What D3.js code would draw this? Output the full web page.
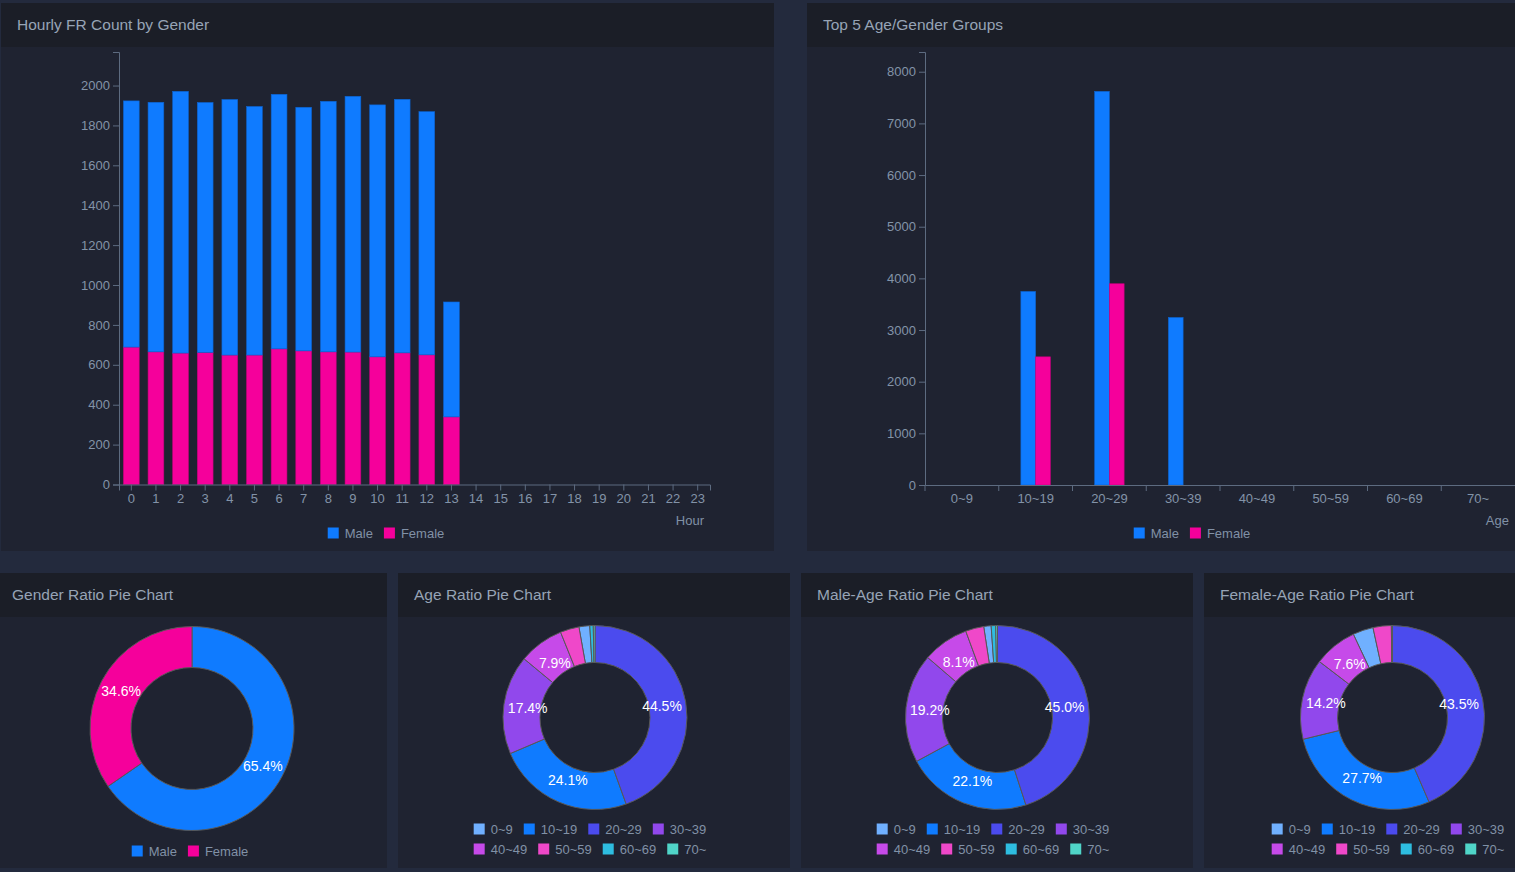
<!DOCTYPE html>
<html>
<head>
<meta charset="utf-8">
<script src="https://cdn.jsdelivr.net/npm/d3@7"></script>
<style>
html, body { margin: 0; padding: 0; background: #232a3d; overflow: hidden; }
svg { display: block; font-family: "Liberation Sans", Arial, sans-serif; }
.axis path, .axis line { stroke: #5d6b80; }
.axis text { fill: #8393a8; font-size: 13px; font-family: "Liberation Sans", Arial, sans-serif; }
</style>
</head>
<body>
<svg id="dash" width="1515" height="872"></svg>
<script>
// hourly counts (stacked: female at the bottom)
var hours = ["0","1","2","3","4","5","6","7","8","9","10","11","12","13","14","15","16","17","18","19","20","21","22","23"];
var hourlyMale = [1234, 1251, 1312, 1253, 1281, 1246, 1276, 1221, 1256, 1282, 1263, 1271, 1219, 576, 0, 0, 0, 0, 0, 0, 0, 0, 0, 0];
var hourlyFemale = [689, 665, 659, 662, 649, 649, 680, 670, 665, 664, 640, 660, 650, 339, 0, 0, 0, 0, 0, 0, 0, 0, 0, 0];

// top 5 age/gender groups
var ageGroups = ["0~9", "10~19", "20~29", "30~39", "40~49", "50~59", "60~69", "70~"];
var topMale = [0, 3747, 7620, 3243, 0, 0, 0, 0];
var topFemale = [0, 2481, 3896, 0, 0, 0, 0, 0];

// pie ratios (%)
var genders = ["Male", "Female"];
var genderPct = [65.4, 34.6];
var agePct = [1.9, 24.1, 44.5, 17.4, 7.9, 3.3, 0.6, 0.3];
var maleAgePct = [1.3, 22.1, 45.0, 19.2, 8.1, 3.2, 0.8, 0.3];
var femaleAgePct = [3.6, 27.7, 43.5, 14.2, 7.6, 3.2, 0.1, 0.1];

var genderColors = ["#0f7bff", "#f5009b"];
var ageColors = ["#70b0ff", "#0f7bff", "#4b4bee", "#9148ec", "#c64ae9", "#ef48c9", "#2ebde0", "#50d5c8"];

var svg = d3.select("#dash");
var legendColor = "#8191a6";

// panels
var panels = [
  {x: 1, y: 3, w: 773, h: 548, title: "Hourly FR Count by Gender"},
  {x: 807, y: 3, w: 773, h: 548, title: "Top 5 Age/Gender Groups"},
  {x: -4, y: 573, w: 391, h: 295, title: "Gender Ratio Pie Chart"},
  {x: 398, y: 573, w: 392, h: 295, title: "Age Ratio Pie Chart"},
  {x: 801, y: 573, w: 392, h: 295, title: "Male-Age Ratio Pie Chart"},
  {x: 1204, y: 573, w: 392, h: 295, title: "Female-Age Ratio Pie Chart"}
];
panels.forEach(function(p) {
  svg.append("rect").attr("x", p.x).attr("y", p.y).attr("width", p.w).attr("height", p.h).attr("fill", "#1f2331");
  svg.append("rect").attr("x", p.x).attr("y", p.y).attr("width", p.w).attr("height", 44).attr("fill", "#1b1e27");
  svg.append("text").attr("x", p.x + 16).attr("y", p.y + 27)
    .attr("fill", "#97a4b6").style("font-size", "15.5px").text(p.title);
});

// legend helper: rows of [label, color]
function drawLegend(rows, cx, cy) {
  var g = svg.append("g");
  rows.forEach(function(row, ri) {
    var rg = g.append("g");
    var x = 0;
    row.forEach(function(item) {
      rg.append("rect").attr("x", x).attr("y", -5.5).attr("width", 11).attr("height", 11).attr("fill", item[1]);
      var t = rg.append("text").attr("x", x + 17).attr("y", 0).attr("dy", "0.35em")
        .attr("fill", legendColor).style("font-size", "13px").text(item[0]);
      x += 17 + t.node().getComputedTextLength() + 11;
    });
    var w = x - 11;
    rg.attr("transform", "translate(" + (cx - w / 2) + "," + (cy + ri * 20) + ")");
  });
}

// ---------- Hourly FR Count by Gender ----------
(function() {
  var rows = hours.map(function(h, i) { return {hour: h, Male: hourlyMale[i], Female: hourlyFemale[i]}; });
  var stack = d3.stack().keys(["Female", "Male"])(rows);
  var x = d3.scaleBand().domain(hours).range([119, 710]).paddingInner(0.36).paddingOuter(0.18);
  var maxTotal = d3.max(rows, function(d) { return d.Male + d.Female; });
  var y = d3.scaleLinear().domain([0, maxTotal * 1.1]).range([484.5, 52]);
  var colorOf = {Male: genderColors[0], Female: genderColors[1]};

  svg.append("g").selectAll("g").data(stack).join("g")
    .attr("fill", function(s) { return colorOf[s.key]; })
    .attr("stroke", function(s) { return d3.color(colorOf[s.key]).darker(0.6); })
    .attr("stroke-width", 0.6)
    .selectAll("rect").data(function(s) { return s.filter(function(d) { return d[1] > d[0]; }); }).join("rect")
      .attr("x", function(d) { return x(d.data.hour); })
      .attr("width", x.bandwidth())
      .attr("y", function(d) { return y(d[1]); })
      .attr("height", function(d) { return y(d[0]) - y(d[1]); });

  svg.append("g").attr("class", "axis").attr("transform", "translate(0," + y(0) + ")").call(d3.axisBottom(x));
  svg.append("g").attr("class", "axis").attr("transform", "translate(119,0)")
    .call(d3.axisLeft(y).ticks(10).tickFormat(d3.format("d")));

  svg.append("text").attr("x", 704).attr("y", 525).attr("text-anchor", "end")
    .attr("fill", legendColor).style("font-size", "13px").text("Hour");
  drawLegend([[["Male", genderColors[0]], ["Female", genderColors[1]]]], 386, 533);
})();

// ---------- Top 5 Age/Gender Groups ----------
(function() {
  var rows = ageGroups.map(function(a, i) { return {age: a, Male: topMale[i], Female: topFemale[i]}; });
  var x0 = d3.scaleBand().domain(ageGroups).range([925, 1515]);
  var bw = x0.bandwidth();
  var x1 = d3.scaleBand().domain(genders).range([bw * 0.3, bw * 0.7]);
  var maxVal = d3.max(rows, function(d) { return Math.max(d.Male, d.Female); });
  var y = d3.scaleLinear().domain([0, maxVal * 1.1]).range([485, 52]);

  svg.append("g").selectAll("g").data(rows).join("g")
    .attr("transform", function(d) { return "translate(" + x0(d.age) + ",0)"; })
    .selectAll("rect").data(function(d) {
      return genders.map(function(k, i) { return {key: k, value: d[k], color: genderColors[i]}; })
        .filter(function(e) { return e.value > 0; });
    }).join("rect")
      .attr("x", function(e) { return x1(e.key); })
      .attr("width", x1.bandwidth())
      .attr("y", function(e) { return y(e.value); })
      .attr("height", function(e) { return y(0) - y(e.value); })
      .attr("fill", function(e) { return e.color; })
      .attr("stroke", function(e) { return d3.color(e.color).darker(0.6); })
      .attr("stroke-width", 0.6);

  var xa = svg.append("g").attr("class", "axis").attr("transform", "translate(0," + y(0) + ")")
    .call(d3.axisBottom(x0).tickSize(0).tickSizeOuter(0).tickPadding(9));
  xa.selectAll(".bound").data(ageGroups).join("line").attr("class", "bound")
    .attr("x1", function(d) { return x0(d); }).attr("x2", function(d) { return x0(d); })
    .attr("y1", 0).attr("y2", 6);
  svg.append("g").attr("class", "axis").attr("transform", "translate(925,0)")
    .call(d3.axisLeft(y).ticks(10).tickFormat(d3.format("d")));

  svg.append("text").attr("x", 1509).attr("y", 525).attr("text-anchor", "end")
    .attr("fill", legendColor).style("font-size", "13px").text("Age");
  drawLegend([[["Male", genderColors[0]], ["Female", genderColors[1]]]], 1192, 533);
})();

// ---------- Donuts ----------
function drawDonut(labels, values, colors, cx, cy, rOuter, rInner, rLabel) {
  var total = d3.sum(values);
  var data = labels.map(function(l, i) { return {label: l, value: values[i], color: colors[i]}; });
  var pie = d3.pie().value(function(d) { return d.value; });
  var arc = d3.arc().innerRadius(rInner).outerRadius(rOuter);
  var labelArc = d3.arc().innerRadius(rLabel).outerRadius(rLabel);
  var g = svg.append("g").attr("transform", "translate(" + cx + "," + cy + ")");
  var arcs = pie(data);
  g.selectAll("path").data(arcs).join("path")
    .attr("d", arc)
    .attr("fill", function(d) { return d.data.color; })
    .attr("stroke", "#585858").attr("stroke-width", 1);
  g.selectAll("text").data(arcs.filter(function(d) { return d.data.value / total > 0.05; })).join("text")
    .attr("transform", function(d) { return "translate(" + labelArc.centroid(d) + ")"; })
    .attr("text-anchor", "middle").attr("dy", "0.35em")
    .attr("fill", "#ffffff").style("font-size", "14px")
    .text(function(d) { return (d.data.value / total * 100).toFixed(1) + "%"; });
}

drawDonut(genders, genderPct, genderColors, 192, 728.5, 102, 61, 80);
drawLegend([[["Male", genderColors[0]], ["Female", genderColors[1]]]], 190, 851);

var ageItems = ageGroups.map(function(a, i) { return [a, ageColors[i]]; });
var ageRows = [ageItems.slice(0, 4), ageItems.slice(4)];

drawDonut(ageGroups, agePct, ageColors, 595, 717.5, 92, 55, 68);
drawLegend(ageRows, 590, 829);

drawDonut(ageGroups, maleAgePct, ageColors, 997.5, 717.5, 92, 55, 68);
drawLegend(ageRows, 993, 829);

drawDonut(ageGroups, femaleAgePct, ageColors, 1392.5, 717.5, 92, 55, 68);
drawLegend(ageRows, 1388, 829);
</script>
</body>
</html>
